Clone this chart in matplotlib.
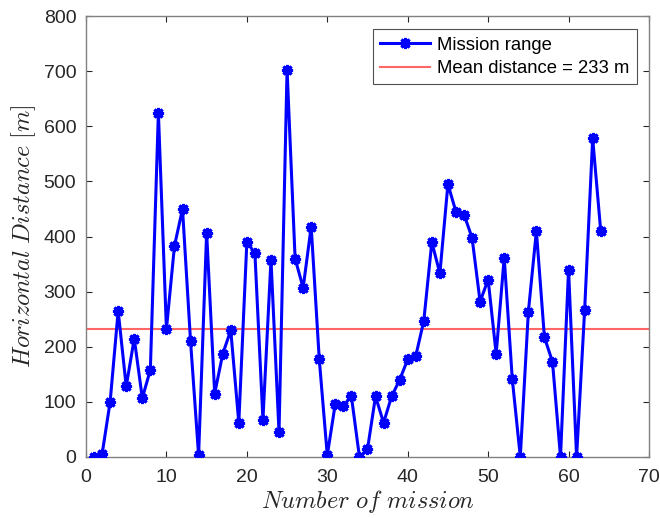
import matplotlib
matplotlib.use("Agg")
import matplotlib.pyplot as plt

missions = list(range(1, 65))
distance = [0, 5, 100, 265, 128, 215, 107, 158, 625, 232,
            383, 450, 210, 3, 407, 115, 187, 230, 62, 390,
            370, 68, 358, 45, 703, 360, 307, 418, 178, 3,
            97, 93, 110, 0, 14, 110, 62, 110, 140, 177,
            183, 247, 390, 333, 495, 445, 440, 398, 282, 322,
            187, 362, 142, 0, 263, 410, 217, 173, 0, 340,
            0, 267, 578, 410]
mean_distance = 233
xticks = [0, 10, 20, 30, 40, 50, 60, 70]
yticks = [0, 100, 200, 300, 400, 500, 600, 700, 800]

plt.rcParams['font.family'] = ['Liberation Sans', 'DejaVu Sans']
plt.rcParams['mathtext.fontset'] = 'cm'

fig = plt.figure(figsize=(6.6, 5.18), dpi=100)
ax = fig.add_axes([0.1303, 0.1178, 0.853, 0.851])

ax.plot(missions, distance, color='#0000FF', lw=2.2, marker=(8, 2, 0),
        markersize=8, markeredgewidth=2.2, label='Mission range', zorder=3)
ax.axhline(mean_distance, color='#FF6666', lw=1.5,
           label=f'Mean distance = {mean_distance} m', zorder=2)

ax.set_xlim(0, 70)
ax.set_ylim(0, 800)
ax.set_xticks(xticks)
ax.set_yticks(yticks)
ax.tick_params(direction='in', top=True, right=True, length=4, labelsize=14,
               colors='#262626', width=0.8)
ax.tick_params(axis='x', pad=9)
ax.tick_params(axis='y', pad=7)
for s in ax.spines.values():
    s.set_color('#808080')
    s.set_linewidth(1.0)

ax.set_xlabel(r'$Number\ of\ mission$', fontsize=17.5, color='#262626', labelpad=1)
ax.set_ylabel(r'$Horizontal\ Distance\ [m]$', fontsize=17.5, color='#262626', labelpad=4)

leg = ax.legend(loc='upper right', fontsize=13.3, frameon=True, fancybox=False,
                edgecolor='#262626', handlelength=2.7,
                bbox_to_anchor=(1 - 12 / 563, 1 - 13 / 441),
                borderaxespad=0.0,
                labelspacing=0.35, handletextpad=0.4, borderpad=0.4)
leg.get_frame().set_linewidth(0.8)

fig.savefig('out.png', dpi=100)
